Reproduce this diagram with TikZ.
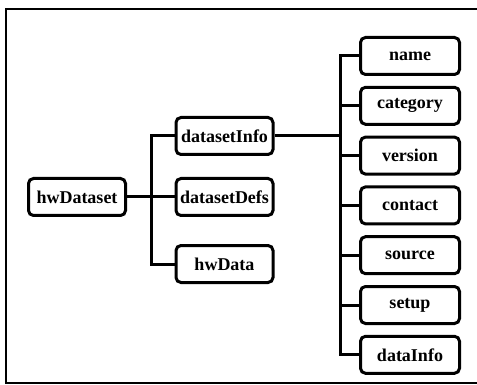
\documentclass[tikz,border=0pt]{standalone}
\usepackage{fontspec}
\setmainfont{Liberation Serif}
\usetikzlibrary{positioning}

\begin{document}
\begin{tikzpicture}[%
        x=1pt, y=-1pt,
        node distance=9.8pt,
        field/.style={%
          draw,
          line width=3pt,
          rounded corners=5pt,
          minimum width=97pt,
          minimum height=37pt,
          inner sep=0pt,
          font=\fontsize{18}{21}\selectfont\bfseries
        },
        leaf/.style={field, minimum width=99pt},
        link/.style={line width=3pt, line join=miter},
        frame/.style={line width=1.4pt}
      ]
      \useasboundingbox (0,0) rectangle (477,385);
      \draw[frame] (477,9) -- (6,9) -- (6,383) -- (477,383);

      \node[field] (hwDataset) at (77,197) {hwDataset};
      \node[field] (datasetInfo) at (224.5,136) {datasetInfo};
      \node[field] (datasetDefs) at (224.5,197) {datasetDefs};
      \node[field] (hwData) at (224.5,264) {hwData};

      \node[leaf] (name) at (410,56) {name};
      \node[leaf] (category) [below=of name] {category};
      \node[leaf] (version) [below=of category] {version};
      \node[leaf] (contact) [below=of version] {contact};
      \node[leaf] (source) [below=of contact] {source};
      \node[leaf] (setup) [below=of source] {setup};
      \node[leaf] (dataInfo) [below=of setup] {dataInfo};

      \coordinate (bus1) at (151,0);
      \coordinate (bus2) at (340,0);

      \draw[link] (hwDataset) -- (datasetDefs);
      \draw[link] (datasetInfo.west) -- (datasetInfo.west -| bus1)
        -- (hwData.west -| bus1) -- (hwData.west);

      \draw[link] (datasetInfo.east) -- (datasetInfo.east -| bus2);
      \draw[link] (name.west) -- (name.west -| bus2)
        -- (dataInfo.west -| bus2) -- (dataInfo.west);
      \foreach \n in {category,version,contact,source,setup}
        \draw[link] (\n.west -| bus2) -- (\n.west);
\end{tikzpicture}
\end{document}
